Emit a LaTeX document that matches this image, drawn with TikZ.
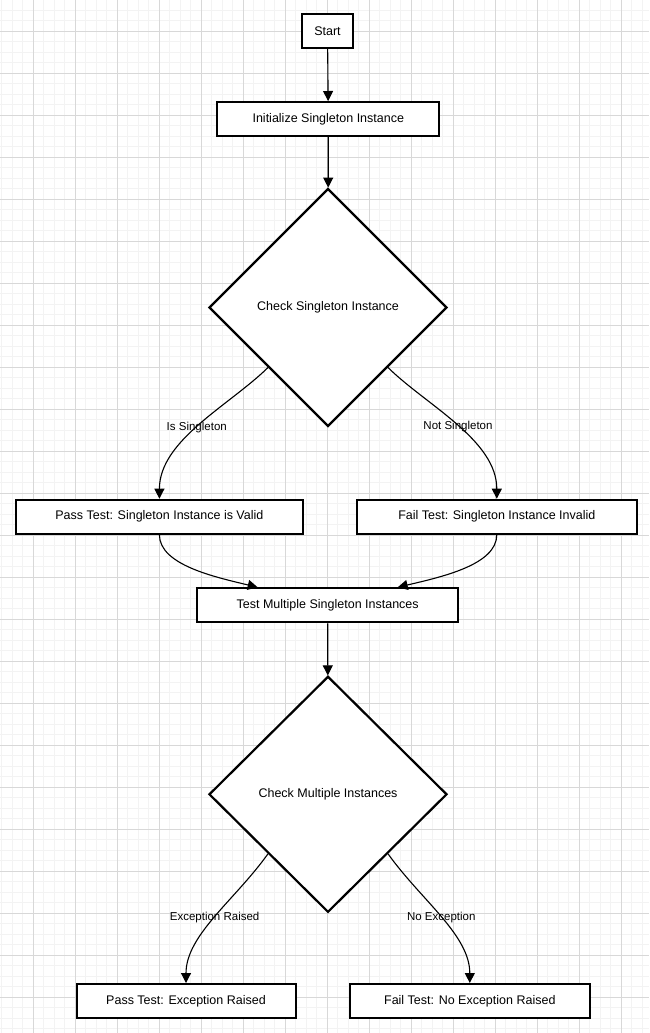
\documentclass[tikz,border=0pt]{standalone}
\usepackage{fontspec}
\setmainfont{Liberation Sans}
\usetikzlibrary{shapes.geometric,arrows.meta,calc}
\definecolor{gridminor}{HTML}{F3F3F3}
\definecolor{gridmajor}{HTML}{D8D8D8}
\tikzset{
  procbox/.style={draw=black, line width=2pt, fill=white, rectangle,
    minimum height=34pt, inner sep=2pt,
    font=\fontsize{12.5}{15}\selectfont},
  decision/.style={draw=black, line width=2.2pt, fill=white, diamond,
    aspect=1, inner sep=0pt, font=\fontsize{12.5}{15}\selectfont},
  flow/.style={draw=black, line width=1.1pt, -{Triangle[length=10pt,width=10pt]}},
  edgelabel/.style={font=\fontsize{11.5}{14}\selectfont, inner sep=1pt}
}
\begin{document}
\begin{tikzpicture}[x=1pt,y=-1pt]
  % canvas and background grid
  \useasboundingbox (0,0) rectangle (649,1033);
  \fill[white] (0,0) rectangle (649,1033);
  \foreach \i in {-3,...,59}
    \draw[gridminor, line width=1pt] ({33.3+10.5*\i},0) -- ({33.3+10.5*\i},1033);
  \foreach \i in {-3,...,96}
    \draw[gridminor, line width=1pt] (0,{31.3+10.5*\i}) -- (649,{31.3+10.5*\i});
  \foreach \i in {-1,...,15}
    \draw[gridmajor, line width=1pt] ({33.3+42*\i},0) -- ({33.3+42*\i},1033);
  \foreach \i in {-1,...,24}
    \draw[gridmajor, line width=1pt] (0,{31.3+42*\i}) -- (649,{31.3+42*\i});

  % nodes
  \node[procbox, minimum width=51pt] (start) at (327.5,31) {Start};
  \node[procbox, minimum width=222pt] (init) at (328.3,119) {Initialize Singleton Instance};
  \node[decision, minimum width=238pt, minimum height=238pt] (check1) at (328,307.5) {Check Singleton Instance};
  \node[procbox, minimum width=287pt] (pass1) at (159.4,516.7) {Pass Test: Singleton Instance is Valid};
  \node[procbox, minimum width=280pt] (fail1) at (496.8,516.7) {Fail Test: Singleton Instance Invalid};
  \node[procbox, minimum width=261pt] (multi) at (327.7,605.3) {Test Multiple Singleton Instances};
  \node[decision, minimum width=238pt, minimum height=236pt] (check2) at (328,794.3) {Check Multiple Instances};
  \node[procbox, minimum width=219pt] (pass2) at (186,1001) {Pass Test: Exception Raised};
  \node[procbox, minimum width=240pt] (fail2) at (469.8,1001) {Fail Test: No Exception Raised};

  % connectors
  \draw[flow] (start) -- (init);
  \draw[flow] (init) -- (check1);
  \draw[flow] (check1.south west) .. controls (230,405) and (159.4,440) ..
    node[edgelabel, pos=0.52] {Is Singleton} (pass1.north);
  \draw[flow] (check1.south east) .. controls (426,405) and (496.8,440) ..
    node[edgelabel, pos=0.51] {Not Singleton} (fail1.north);
  \draw[flow] (pass1.south) .. controls (159.4,565) and (215,577) .. ($(multi.north)+(-70,0)$);
  \draw[flow] (fail1.south) .. controls (496.8,565) and (441,577) .. ($(multi.north)+(70,0)$);
  \draw[flow] (multi) -- (check2);
  \draw[flow] (check2.south west) .. controls (235,900) and (186,935) ..
    node[edgelabel, pos=0.5] {Exception Raised} (pass2.north);
  \draw[flow] (check2.south east) .. controls (421,900) and (469.8,935) ..
    node[edgelabel, pos=0.5] {No Exception} (fail2.north);
\end{tikzpicture}
\end{document}
